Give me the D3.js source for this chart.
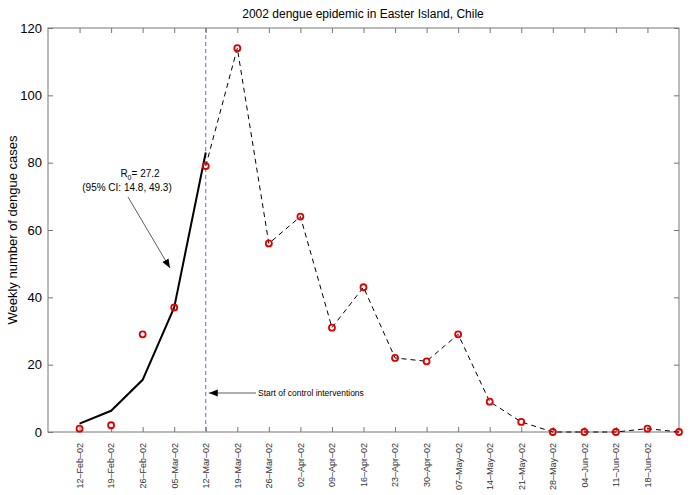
<!DOCTYPE html>
<html><head><meta charset="utf-8">
<script src="https://cdn.jsdelivr.net/npm/d3@7"></script>
<style>body{margin:0;background:#fff}svg{display:block}text{font-family:"Liberation Sans",Arial,sans-serif}</style>
</head><body>
<svg id="c" width="690" height="495"></svg>
<script>
const dateLabels = ["12–Feb–02","19–Feb–02","26–Feb–02","05–Mar–02","12–Mar–02","19–Mar–02","26–Mar–02","02–Apr–02","09–Apr–02","16–Apr–02","23–Apr–02","30–Apr–02","07–May–02","14–May–02","21–May–02","28–May–02","04–Jun–02","11–Jun–02","18–Jun–02"];
const weekIndex = [0,1,2,3,4,5,6,7,8,9,10,11,12,13,14,15,16,17,18,19];
const observedCases = [1,2,29,37,79,114,56,64,31,43,22,21,29,9,3,0,0,0,1,0];
const fitWeeks = [0,1,2,3,4];
const fitValues = [2.5,6.3,15.5,37,83];
const yTicks = [0,20,40,60,80,100,120];
const interventionWeek = 4;

const svg = d3.select("#c");
const L=48, R=679, T=28, B=432;
const x = d3.scaleLinear().domain([-1,19]).range([L,R]);
const y = d3.scaleLinear().domain([0,120]).range([B,T]);
const axisCol = "#777";

svg.append("rect").attr("x",L).attr("y",T).attr("width",R-L).attr("height",B-T)
  .attr("fill","none").attr("stroke",axisCol).attr("stroke-width",1);

const xb = svg.append("g").attr("transform",`translate(0,${B})`)
  .call(d3.axisBottom(x).tickValues(d3.range(dateLabels.length)).tickSize(-5).tickFormat(i=>dateLabels[i]));
xb.select(".domain").remove();
xb.selectAll("line").attr("stroke",axisCol);
xb.selectAll("text").attr("transform","rotate(-90)").attr("text-anchor","end")
  .attr("x",-11).attr("y",0).attr("dy","0.32em").attr("font-size",9).attr("fill","#333");
const xt = svg.append("g").attr("transform",`translate(0,${T})`)
  .call(d3.axisTop(x).tickValues(d3.range(dateLabels.length)).tickSize(-5).tickFormat(""));
xt.select(".domain").remove();
xt.selectAll("line").attr("stroke",axisCol);

const yl = svg.append("g").attr("transform",`translate(${L},0)`)
  .call(d3.axisLeft(y).tickValues(yTicks).tickSize(-5).tickPadding(6));
yl.select(".domain").remove();
yl.selectAll("line").attr("stroke",axisCol);
yl.selectAll("text").attr("font-size",13).attr("fill","#000");
const yr = svg.append("g").attr("transform",`translate(${R},0)`)
  .call(d3.axisRight(y).tickValues(yTicks).tickSize(-5).tickFormat(""));
yr.select(".domain").remove();
yr.selectAll("line").attr("stroke",axisCol);

svg.append("line").attr("x1",x(interventionWeek)).attr("x2",x(interventionWeek))
  .attr("y1",T).attr("y2",B).attr("stroke","#6666dd").attr("stroke-width",1).attr("stroke-dasharray","4,3");

const line = d3.line().x(d=>x(d[0])).y(d=>y(d[1]));
const dashedPts = weekIndex.map((w,i)=>[w,observedCases[i]]).filter(d=>d[0]>=interventionWeek);
svg.append("path").attr("d",line(dashedPts)).attr("fill","none")
  .attr("stroke","#000").attr("stroke-width",1).attr("stroke-dasharray","5,4");

svg.append("path").attr("d",line(fitWeeks.map((w,i)=>[w,fitValues[i]]))).attr("fill","none")
  .attr("stroke","#000").attr("stroke-width",2);

svg.append("g").selectAll("circle").data(weekIndex.map((w,i)=>[w,observedCases[i]])).join("circle")
  .attr("cx",d=>x(d[0])).attr("cy",d=>y(d[1])).attr("r",3)
  .attr("fill","none").attr("stroke","#e00000").attr("stroke-width",1.8);

const defs = svg.append("defs");
defs.append("marker").attr("id","ah").attr("viewBox","0 0 10 10").attr("refX",10).attr("refY",5)
  .attr("markerWidth",9).attr("markerHeight",9).attr("markerUnits","userSpaceOnUse").attr("orient","auto")
  .append("path").attr("d","M0,1 L10,5 L0,9 z").attr("fill","#000");

const ann = svg.append("text").attr("x",140).attr("y",177).attr("text-anchor","middle").attr("font-size",10);
ann.append("tspan").text("R");
ann.append("tspan").attr("font-size",7).attr("dy",3).text("0");
ann.append("tspan").attr("dy",-3).text("= 27.2");
svg.append("text").attr("x",127).attr("y",191).attr("text-anchor","middle").attr("font-size",10).text("(95% CI: 14.8, 49.3)");
svg.append("line").attr("x1",128).attr("y1",197).attr("x2",170).attr("y2",268)
  .attr("stroke","#333").attr("stroke-width",0.8).attr("marker-end","url(#ah)");

svg.append("line").attr("x1",256).attr("y1",393).attr("x2",x(interventionWeek)+3).attr("y2",393)
  .attr("stroke","#333").attr("stroke-width",0.8).attr("marker-end","url(#ah)");
svg.append("text").attr("x",258).attr("y",396).attr("font-size",8.5).text("Start of control interventions");

svg.append("text").attr("x",363).attr("y",18).attr("text-anchor","middle").attr("font-size",12).text("2002 dengue epidemic in Easter Island, Chile");
svg.append("text").attr("transform",`translate(17,${(T+B)/2}) rotate(-90)`).attr("text-anchor","middle")
  .attr("font-size",13).text("Weekly number of dengue cases");
</script>
</body></html>
